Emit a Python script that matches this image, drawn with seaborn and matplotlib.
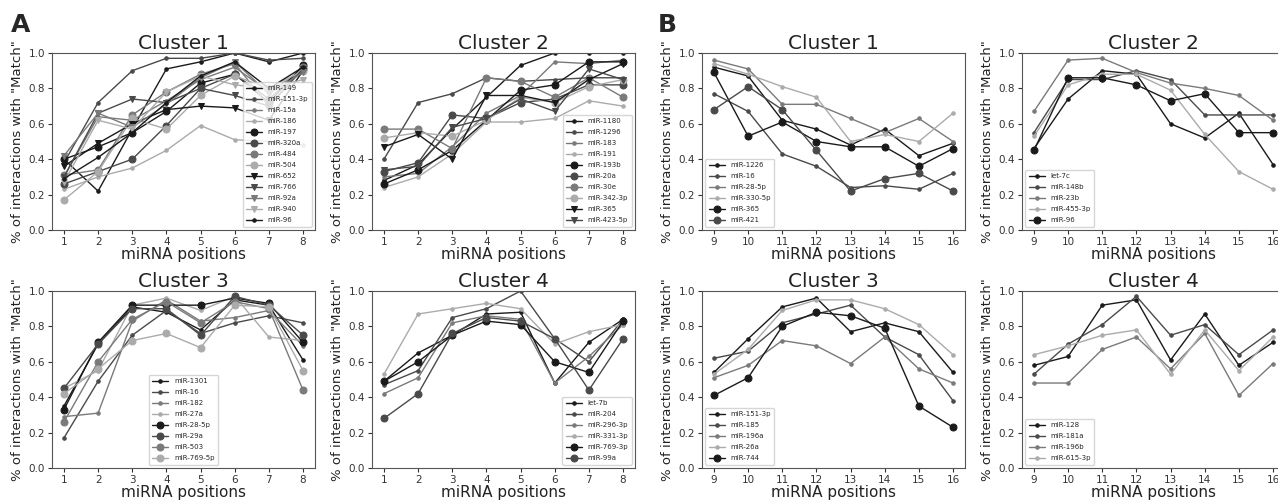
import numpy as np
import seaborn as sns
import matplotlib
matplotlib.use("Agg")
import matplotlib.pyplot as plt

# positions
pos_a = [1, 2, 3, 4, 5, 6, 7, 8]
pos_b = [9, 10, 11, 12, 13, 14, 15, 16]

# A - cluster 1
a1_names = ["miR-149", "miR-151-3p", "miR-15a", "miR-186", "miR-197", "miR-320a", "miR-484",
            "miR-504", "miR-652", "miR-766", "miR-92a", "miR-940", "miR-96"]
a1_values = [
    [0.40, 0.22, 0.57, 0.91, 0.95, 1.00, 0.95, 1.00],
    [0.38, 0.72, 0.90, 0.97, 0.97, 1.00, 0.96, 0.97],
    [0.30, 0.64, 0.62, 0.73, 0.85, 0.92, 0.78, 0.90],
    [0.23, 0.30, 0.35, 0.45, 0.59, 0.51, 0.50, 0.48],
    [0.40, 0.47, 0.55, 0.67, 0.83, 0.88, 0.72, 0.93],
    [0.26, 0.33, 0.40, 0.59, 0.80, 0.88, 0.74, 0.91],
    [0.31, 0.34, 0.65, 0.78, 0.88, 0.94, 0.70, 0.92],
    [0.17, 0.33, 0.63, 0.57, 0.76, 0.87, 0.80, 0.90],
    [0.36, 0.49, 0.60, 0.68, 0.70, 0.69, 0.62, 0.90],
    [0.30, 0.66, 0.74, 0.72, 0.80, 0.76, 0.70, 0.91],
    [0.42, 0.66, 0.58, 0.71, 0.86, 0.95, 0.77, 0.89],
    [0.27, 0.62, 0.57, 0.78, 0.87, 0.82, 0.80, 0.85],
    [0.29, 0.41, 0.55, 0.72, 0.87, 0.95, 0.80, 0.92],
]

# A - cluster 2
a2_names = ["miR-1180", "miR-1296", "miR-183", "miR-191", "miR-193b", "miR-20a", "miR-30e",
            "miR-342-3p", "miR-365", "miR-423-5p"]
a2_values = [
    [0.28, 0.37, 0.57, 0.75, 0.93, 1.00, 1.00, 1.00],
    [0.40, 0.72, 0.77, 0.86, 0.84, 0.85, 0.86, 0.86],
    [0.30, 0.32, 0.47, 0.66, 0.76, 0.95, 0.94, 0.96],
    [0.24, 0.30, 0.43, 0.61, 0.61, 0.63, 0.73, 0.70],
    [0.26, 0.34, 0.45, 0.62, 0.79, 0.82, 0.95, 0.95],
    [0.33, 0.38, 0.65, 0.63, 0.72, 0.74, 0.82, 0.82],
    [0.57, 0.57, 0.46, 0.86, 0.84, 0.75, 0.86, 0.75],
    [0.52, 0.55, 0.53, 0.62, 0.75, 0.72, 0.81, 0.85],
    [0.47, 0.54, 0.40, 0.76, 0.76, 0.72, 0.85, 0.94],
    [0.34, 0.36, 0.58, 0.63, 0.74, 0.67, 0.91, 0.85],
]

# A - cluster 3
a3_names = ["miR-1301", "miR-16", "miR-182", "miR-27a", "miR-28-5p", "miR-29a", "miR-503", "miR-769-5p"]
a3_values = [
    [0.35, 0.70, 0.91, 0.88, 0.78, 0.95, 0.92, 0.61],
    [0.17, 0.49, 0.75, 0.89, 0.76, 0.82, 0.86, 0.82],
    [0.29, 0.31, 0.83, 0.95, 0.83, 0.85, 0.89, 0.69],
    [0.45, 0.55, 0.92, 0.96, 0.89, 0.97, 0.74, 0.72],
    [0.33, 0.71, 0.92, 0.92, 0.92, 0.96, 0.93, 0.71],
    [0.45, 0.70, 0.90, 0.90, 0.75, 0.97, 0.92, 0.75],
    [0.26, 0.60, 0.84, 0.94, 0.82, 0.94, 0.90, 0.44],
    [0.42, 0.56, 0.72, 0.76, 0.68, 0.92, 0.91, 0.55],
]

# A - cluster 4
a4_names = ["let-7b", "miR-204", "miR-296-3p", "miR-331-3p", "miR-769-3p", "miR-99a"]
a4_values = [
    [0.49, 0.65, 0.75, 0.87, 0.88, 0.48, 0.71, 0.84],
    [0.47, 0.55, 0.85, 0.90, 1.00, 0.73, 0.60, 0.84],
    [0.42, 0.51, 0.82, 0.86, 0.84, 0.48, 0.63, 0.81],
    [0.53, 0.87, 0.90, 0.93, 0.90, 0.70, 0.77, 0.81],
    [0.49, 0.60, 0.75, 0.83, 0.81, 0.60, 0.54, 0.83],
    [0.28, 0.42, 0.76, 0.85, 0.83, 0.73, 0.44, 0.73],
]

# B - cluster 1
b1_names = ["miR-1226", "miR-16", "miR-28-5p", "miR-330-5p", "miR-365", "miR-421"]
b1_values = [
    [0.92, 0.87, 0.62, 0.57, 0.48, 0.57, 0.42, 0.49],
    [0.77, 0.67, 0.43, 0.36, 0.24, 0.25, 0.23, 0.32],
    [0.96, 0.91, 0.71, 0.71, 0.63, 0.55, 0.63, 0.50],
    [0.94, 0.88, 0.81, 0.75, 0.50, 0.54, 0.50, 0.66],
    [0.89, 0.53, 0.61, 0.50, 0.47, 0.47, 0.36, 0.46],
    [0.68, 0.81, 0.68, 0.45, 0.22, 0.29, 0.32, 0.22],
]

# B - cluster 2
b2_names = ["let-7c", "miR-148b", "miR-23b", "miR-455-3p", "miR-96"]
b2_values = [
    [0.46, 0.74, 0.90, 0.88, 0.60, 0.52, 0.66, 0.37],
    [0.55, 0.85, 0.85, 0.90, 0.85, 0.65, 0.65, 0.65],
    [0.67, 0.96, 0.97, 0.89, 0.83, 0.80, 0.76, 0.62],
    [0.53, 0.82, 0.88, 0.88, 0.79, 0.54, 0.33, 0.23],
    [0.45, 0.86, 0.86, 0.82, 0.73, 0.77, 0.55, 0.55],
]

# B - cluster 3
b3_names = ["miR-151-3p", "miR-185", "miR-196a", "miR-26a", "miR-744"]
b3_values = [
    [0.54, 0.73, 0.91, 0.96, 0.77, 0.82, 0.77, 0.54],
    [0.62, 0.66, 0.82, 0.87, 0.92, 0.74, 0.64, 0.38],
    [0.51, 0.58, 0.72, 0.69, 0.59, 0.74, 0.56, 0.48],
    [0.53, 0.67, 0.89, 0.95, 0.95, 0.90, 0.81, 0.64],
    [0.41, 0.51, 0.80, 0.88, 0.86, 0.79, 0.35, 0.23],
]

# B - cluster 4
b4_names = ["miR-128", "miR-181a", "miR-196b", "miR-615-3p"]
b4_values = [
    [0.58, 0.63, 0.92, 0.95, 0.61, 0.87, 0.58, 0.71],
    [0.53, 0.70, 0.81, 0.97, 0.75, 0.81, 0.64, 0.78],
    [0.48, 0.48, 0.67, 0.74, 0.56, 0.76, 0.41, 0.59],
    [0.64, 0.69, 0.75, 0.78, 0.53, 0.78, 0.55, 0.74],
]

sns.set_style("ticks")
plt.rcParams["font.family"] = ["DejaVu Sans"]

greys = ["#1a1a1a", "#4a4a4a", "#7a7a7a", "#ababab"]
markers = [".", "o", "v", "."]
msizes = [5, 5, 4.5, 5]

fig = plt.figure(figsize=(12.78, 5.0), dpi=100)

W = 263 / 1278
H = 177 / 500
panels = [
    (52, 0.54, "Cluster 1", pos_a, a1_names, a1_values, "lower right"),
    (372, 0.54, "Cluster 2", pos_a, a2_names, a2_values, "lower right"),
    (52, 0.064, "Cluster 3", pos_a, a3_names, a3_values, "lower center"),
    (372, 0.064, "Cluster 4", pos_a, a4_names, a4_values, "lower right"),
    (702, 0.54, "Cluster 1", pos_b, b1_names, b1_values, "lower left"),
    (1022, 0.54, "Cluster 2", pos_b, b2_names, b2_values, "lower left"),
    (702, 0.064, "Cluster 3", pos_b, b3_names, b3_values, "lower left"),
    (1022, 0.064, "Cluster 4", pos_b, b4_names, b4_values, "lower left"),
]

for left, bottom, title, xs, names, vals, loc in panels:
    ax = fig.add_axes([left / 1278, bottom, W, H])
    for i, (nm, v) in enumerate(zip(names, vals)):
        g = i // 4
        sns.lineplot(x=xs, y=v, ax=ax, color=greys[i % 4], marker=markers[g],
                     markersize=msizes[g], linewidth=1.0, label=nm,
                     markeredgecolor=greys[i % 4])
    ax.set_ylim(0, 1.0)
    ax.set_xticks(xs)
    ax.set_yticks(np.arange(0, 1.01, 0.2))
    ax.tick_params(labelsize=7.5, length=3, pad=2, colors="#333333")
    for s in ax.spines.values():
        s.set_color("#555555")
    ax.set_title(title, fontsize=14.5, pad=3, color="#222222")
    ax.set_xlabel("miRNA positions", fontsize=11, labelpad=0, color="#222222")
    ax.set_ylabel('% of interactions with "Match"', fontsize=9.5, labelpad=3, color="#222222")
    ax.legend(loc=loc, fontsize=5, handlelength=2.3, labelspacing=0.72,
              borderpad=0.5, framealpha=0.8)

fig.text(11 / 1278, 1 - 32 / 500, "A", fontsize=18, fontweight="bold")
fig.text(658 / 1278, 1 - 32 / 500, "B", fontsize=18, fontweight="bold")

fig.savefig("out.png", dpi=100)
